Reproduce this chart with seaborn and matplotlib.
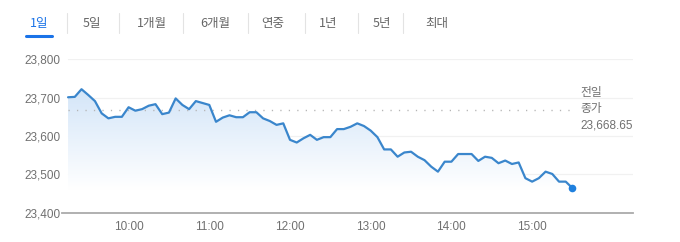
import numpy as np
import pandas as pd
import matplotlib
matplotlib.use("Agg")
import matplotlib.pyplot as plt
import matplotlib.dates as mdates
from matplotlib.lines import Line2D
from matplotlib.colors import LinearSegmentedColormap
from matplotlib.ticker import StrMethodFormatter
import seaborn as sns

# ---- data ----
tabs = ["1일", "5일", "1개월", "6개월", "연중", "1년", "5년", "최대"]
selected_tab = "1일"
start_time = "2019-01-02 09:15"
end_time = "2019-01-02 16:15"
x_tick_hours = [10, 11, 12, 13, 14, 15]
values = [23701, 23702, 23722, 23707, 23691, 23659, 23646, 23650, 23650, 23675,
          23666, 23670, 23679, 23683, 23657, 23661, 23698, 23681, 23670, 23691,
          23686, 23681, 23637, 23648, 23654, 23649, 23649, 23662, 23662, 23646,
          23639, 23629, 23633, 23590, 23583, 23594, 23603, 23590, 23597, 23597,
          23618, 23618, 23624, 23633, 23626, 23614, 23597, 23565, 23565, 23546,
          23557, 23559, 23546, 23537, 23520, 23507, 23533, 23533, 23553, 23553,
          23553, 23535, 23546, 23543, 23529, 23536, 23527, 23531, 23490, 23481,
          23490, 23507, 23501, 23481, 23481, 23464]
prev_close = 23668.65
prev_close_label = ["전일", "종가", "23,668.65"]
y_ticks = [23400, 23500, 23600, 23700, 23800]

times = pd.date_range(start_time, periods=len(values), freq="5min")
df = pd.DataFrame({"time": times, "value": values})

# ---- style ----
sns.set_style("white")
plt.rcParams["font.family"] = ["Liberation Sans", "Noto Sans CJK KR", "DejaVu Sans"]

W, H, DPI = 680, 242, 100
fig = plt.figure(figsize=(W / DPI, H / DPI), dpi=DPI, facecolor="white")
ax_left, ax_right, ax_bottom, ax_top = 62, 633, 212.7, 59.3
ax = fig.add_axes([ax_left / W, 1 - ax_bottom / H,
                   (ax_right - ax_left) / W, (ax_bottom - ax_top) / H])

line_color = "#3a86cc"
label_color = "#707070"

xmin = pd.Timestamp(start_time) - pd.Timedelta(minutes=4.5)
xmax = pd.Timestamp(end_time)

# gradient fill under line
xn = mdates.date2num(df["time"])
poly = ax.fill_between(df["time"], df["value"], y_ticks[0], color="none", lw=0)
cmap = LinearSegmentedColormap.from_list("g", ["#ffffff", "#d3e5f8"])
grad = np.linspace(0, 1, 256).reshape(-1, 1)
im = ax.imshow(grad, aspect="auto", cmap=cmap, origin="lower",
               extent=[xn[0], xn[-1], 23460, 23725], zorder=1)
im.set_clip_path(poly.get_paths()[0], transform=ax.transData)

# grid
for yv in y_ticks[1:]:
    ax.plot([df["time"].iloc[0], xmax], [yv, yv], color="#f1f1f1", lw=0.9, zorder=0)

# line
sns.lineplot(data=df, x="time", y="value", ax=ax, color=line_color,
             linewidth=1.6, zorder=3)
ax.scatter(df["time"].iloc[-1], df["value"].iloc[-1], s=30, color="#1f80de",
           zorder=4, linewidths=0)

# previous close dotted line
ax.plot([df["time"].iloc[0], pd.Timestamp("2019-01-02 15:31")],
        [prev_close, prev_close], color="#b5b5b5", lw=1.0,
        linestyle=(0, (0.9, 5.2)), zorder=2)
for i, t in enumerate(prev_close_label):
    fig.text(580 / W, 1 - (93 + 16 * i) / H, t, fontsize=8.5,
             color=label_color, ha="left", va="center")

ax.set_xlim(xmin, xmax)
ax.set_ylim(y_ticks[0], y_ticks[-1])

# axes styling
for s in ["left", "right", "top"]:
    ax.spines[s].set_visible(False)
ax.spines["bottom"].set_color("#aaaaaa")
ax.spines["bottom"].set_linewidth(1.3)
ax.set_yticks(y_ticks)
ax.yaxis.set_major_formatter(StrMethodFormatter("{x:,.0f}"))
ax.tick_params(axis="y", length=0, pad=1, labelsize=8.5, labelcolor=label_color)
ax.xaxis.set_major_locator(mdates.HourLocator(byhour=x_tick_hours))
ax.xaxis.set_major_formatter(mdates.DateFormatter("%H:%M"))
ax.tick_params(axis="x", length=4, width=0.8, color="#aaaaaa", pad=2,
               labelsize=8.5, labelcolor=label_color)
ax.set_xlabel("")
ax.set_ylabel("")
ax.set_facecolor("none")

# tabs
tab_x = [39, 92, 152, 215, 273, 328, 382, 437]
sep_x = [67, 119, 183, 248, 305, 358, 403]
for t, x in zip(tabs, tab_x):
    sel = t == selected_tab
    fig.text(x / W, 1 - 23.5 / H, t, fontsize=9, ha="center", va="center",
             color="#1a73e8" if sel else "#666666",
             family=["Noto Sans CJK KR", "DejaVu Sans"])
    if sel:
        fig.add_artist(Line2D([(x - 13) / W, (x + 13) / W], [1 - 36 / H, 1 - 36 / H],
                              color="#1a73e8", lw=2.2, solid_capstyle="round",
                              transform=fig.transFigure))
for x in sep_x:
    fig.add_artist(Line2D([x / W, x / W], [1 - 13 / H, 1 - 33 / H],
                          color="#e3e3e3", lw=0.8, transform=fig.transFigure))

fig.savefig("out.png", dpi=DPI, facecolor="white")
